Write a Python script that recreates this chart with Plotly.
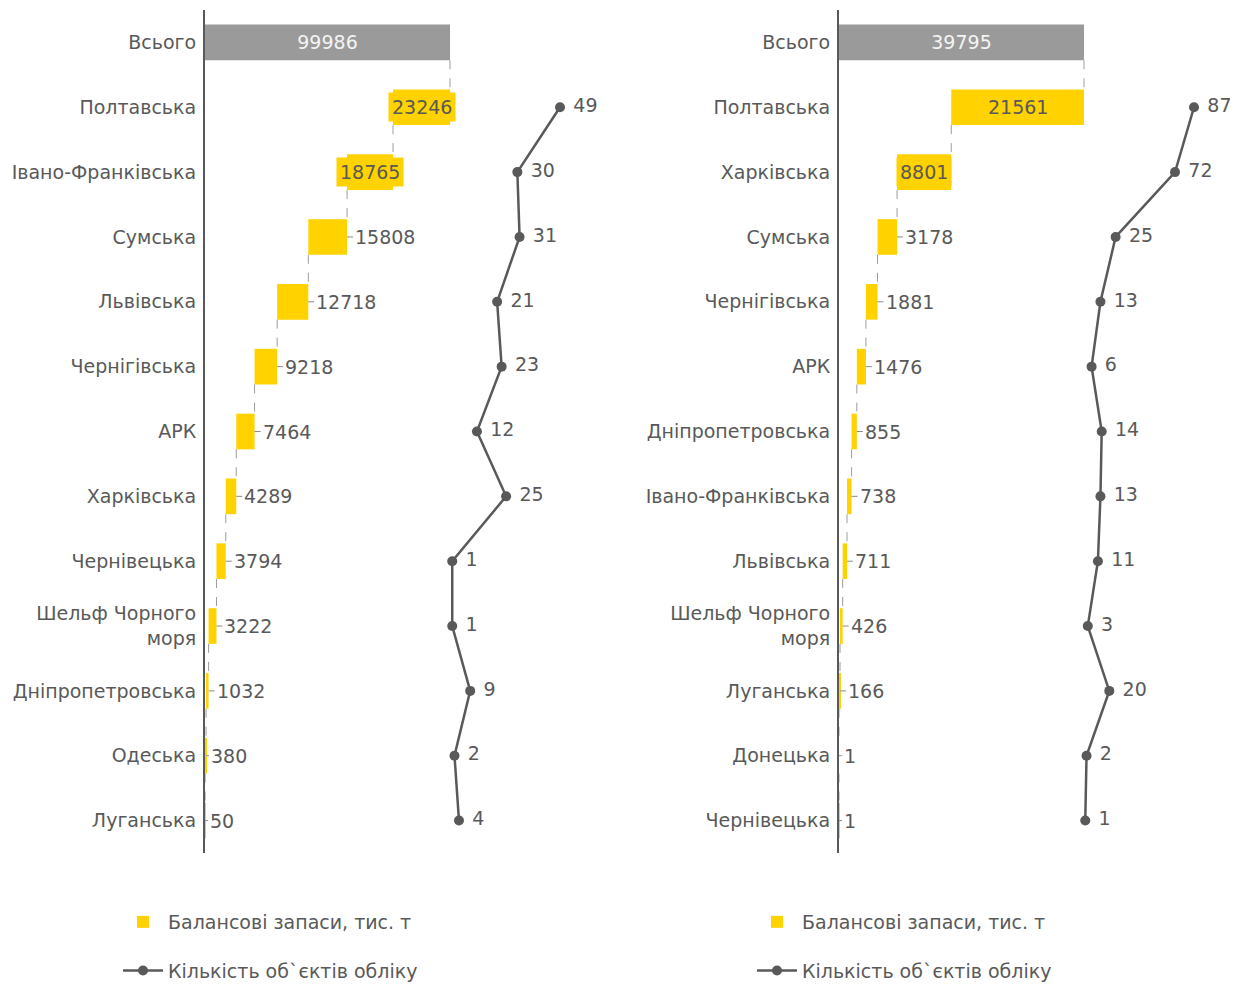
import numpy as np
import plotly.graph_objects as go

# ---------------- data ----------------
left_total_label = "Всього"
left_total = 99986
left_regions = ["Полтавська", "Івано-Франківська", "Сумська", "Львівська", "Чернігівська",
                "АРК", "Харківська", "Чернівецька", "Шельф Чорного<br>моря",
                "Дніпропетровська", "Одеська", "Луганська"]
left_reserves = [23246, 18765, 15808, 12718, 9218, 7464, 4289, 3794, 3222, 1032, 380, 50]
left_counts = [49, 30, 31, 21, 23, 12, 25, 1, 1, 9, 2, 4]

right_total_label = "Всього"
right_total = 39795
right_regions = ["Полтавська", "Харківська", "Сумська", "Чернігівська", "АРК",
                 "Дніпропетровська", "Івано-Франківська", "Львівська",
                 "Шельф Чорного<br>моря", "Луганська", "Донецька", "Чернівецька"]
right_reserves = [21561, 8801, 3178, 1881, 1476, 855, 738, 711, 426, 166, 1, 1]
right_counts = [87, 72, 25, 13, 6, 14, 13, 11, 3, 20, 2, 1]

series_bar_name = "Балансові запаси, тис. т"
series_line_name = "Кількість об`єктів обліку"

# ---------------- styles ----------------
W, H = 1230, 976
FONT = "DejaVu Sans"
FS = 19
TXT = "#595959"
YELLOW = "#FFD200"
GRAY = "#9a9a9a"
M_T, M_B = 2, 131
PANEL_W = 395
LEFT_X0, RIGHT_X0 = 197, 831
BAR_FRAC = 245 / 395      # fraction of panel where total bar ends
LINE_FRAC = 355 / 395     # fraction where max count sits
BAR_W = 0.55

fig = go.Figure()


def add_panel(total_label, total, regions, reserves, counts, xb, xl, ya, legend, x0):
    # xb, xl, ya are short refs like "x", "x2", "y"
    lay = lambda r: r[0] + "axis" + r[1:]
    n = len(regions)
    ys = np.arange(n + 1)
    reserves = np.asarray(reserves, dtype=float)
    ends = total - np.concatenate([[0.0], np.cumsum(reserves)[:-1]])   # right ends
    starts = ends - reserves                                            # left ends
    rng_bar = total / BAR_FRAC
    px_per_unit = PANEL_W / rng_bar

    # total bar
    fig.add_trace(go.Bar(
        y=[ys[0]], x=[total], base=[0], orientation="h", width=BAR_W,
        marker=dict(color=GRAY, line=dict(width=0)),
        text=[str(total)], textposition="inside", insidetextanchor="middle",
        textfont=dict(color="#f4f4f4", size=FS, family=FONT),
        xaxis=xb, yaxis=ya, showlegend=False, hoverinfo="skip", legend=legend))
    # region bars
    fig.add_trace(go.Bar(
        y=ys[1:], x=reserves, base=starts, orientation="h", width=BAR_W,
        marker=dict(color=YELLOW, line=dict(width=0)),
        name=series_bar_name, xaxis=xb, yaxis=ya, legend=legend,
        legendgroup=legend + "bar", textposition="none"))
    # connectors
    cx, cy = [], []
    prev_left = [total] + list(starts[:-1])
    for i in range(n):
        c = prev_left[i]
        cx += [c, c, None]
        cy += [ys[i] + BAR_W / 2, ys[i + 1] - BAR_W / 2, None]
    fig.add_trace(go.Scatter(
        x=cx, y=cy, mode="lines", line=dict(color="#9c9c9c", width=1, dash="dash"),
        xaxis=xb, yaxis=ya, showlegend=False, hoverinfo="skip"))
    # labels for region bars
    for i in range(n):
        wpx = reserves[i] * px_per_unit
        label = str(int(reserves[i]))
        if wpx >= 45:
            fig.add_annotation(x=(starts[i] + ends[i]) / 2, y=ys[i + 1], xref=xb, yref=ya,
                               text=label, showarrow=False, bgcolor=YELLOW, borderpad=3,
                               font=dict(family=FONT, size=FS, color=TXT))
        else:
            fig.add_annotation(x=ends[i], y=ys[i + 1], xref=xb, yref=ya,
                               text=label, showarrow=True, arrowhead=0, arrowwidth=1,
                               arrowcolor="#8c8c8c", ax=6 if wpx > 1 else 3, ay=0,
                               xanchor="left", font=dict(family=FONT, size=FS, color=TXT))
    # counts line
    counts = np.asarray(counts)
    fig.add_trace(go.Scatter(
        x=counts, y=ys[1:], mode="lines+markers+text",
        text=[" " + str(c) for c in counts], textposition="middle right",
        textfont=dict(family=FONT, size=FS, color=TXT),
        line=dict(color=TXT, width=2.5), marker=dict(color=TXT, size=10),
        name=series_line_name, xaxis=xl, yaxis=ya, legend=legend,
        legendgroup=legend + "line", cliponaxis=False))

    # axes
    dom = [x0 / W, (x0 + PANEL_W) / W]
    span = counts.max() / (LINE_FRAC - BAR_FRAC)
    lo = -BAR_FRAC * span
    fig.update_layout(**{
        lay(xb): dict(domain=dom, range=[0, rng_bar], visible=False, anchor=ya),
        lay(xl): dict(overlaying=xb, range=[lo, lo + span], visible=False, anchor=ya),
        lay(ya): dict(domain=[0, 1], anchor=xb, range=[n + 0.5, -0.5],
                      tickvals=list(ys), ticktext=[total_label] + regions,
                      showline=True, linecolor=TXT, linewidth=2, ticks="", showgrid=False,
                      zeroline=False, tickfont=dict(family=FONT, size=FS, color=TXT),
                      ticklabelstandoff=3),
    })


add_panel(left_total_label, left_total, left_regions, left_reserves, left_counts,
          "x", "x2", "y", "legend", LEFT_X0)
add_panel(right_total_label, right_total, right_regions, right_reserves, right_counts,
          "x3", "x4", "y2", "legend2", RIGHT_X0)

leg_common = dict(orientation="v", yanchor="top", y=-0.0593, xanchor="left",
                  font=dict(family=FONT, size=FS, color=TXT), tracegroupgap=21,
                  bgcolor="rgba(0,0,0,0)", itemwidth=40)
fig.update_layout(
    width=W, height=H, template="plotly_white",
    paper_bgcolor="white", plot_bgcolor="white",
    margin=dict(l=0, r=0, t=M_T, b=M_B, autoexpand=False),
    font=dict(family=FONT, size=FS, color=TXT),
    barmode="overlay",
    legend=dict(x=110 / W, **leg_common),
    legend2=dict(x=744 / W, **leg_common),
)

fig.write_html("out.html")
